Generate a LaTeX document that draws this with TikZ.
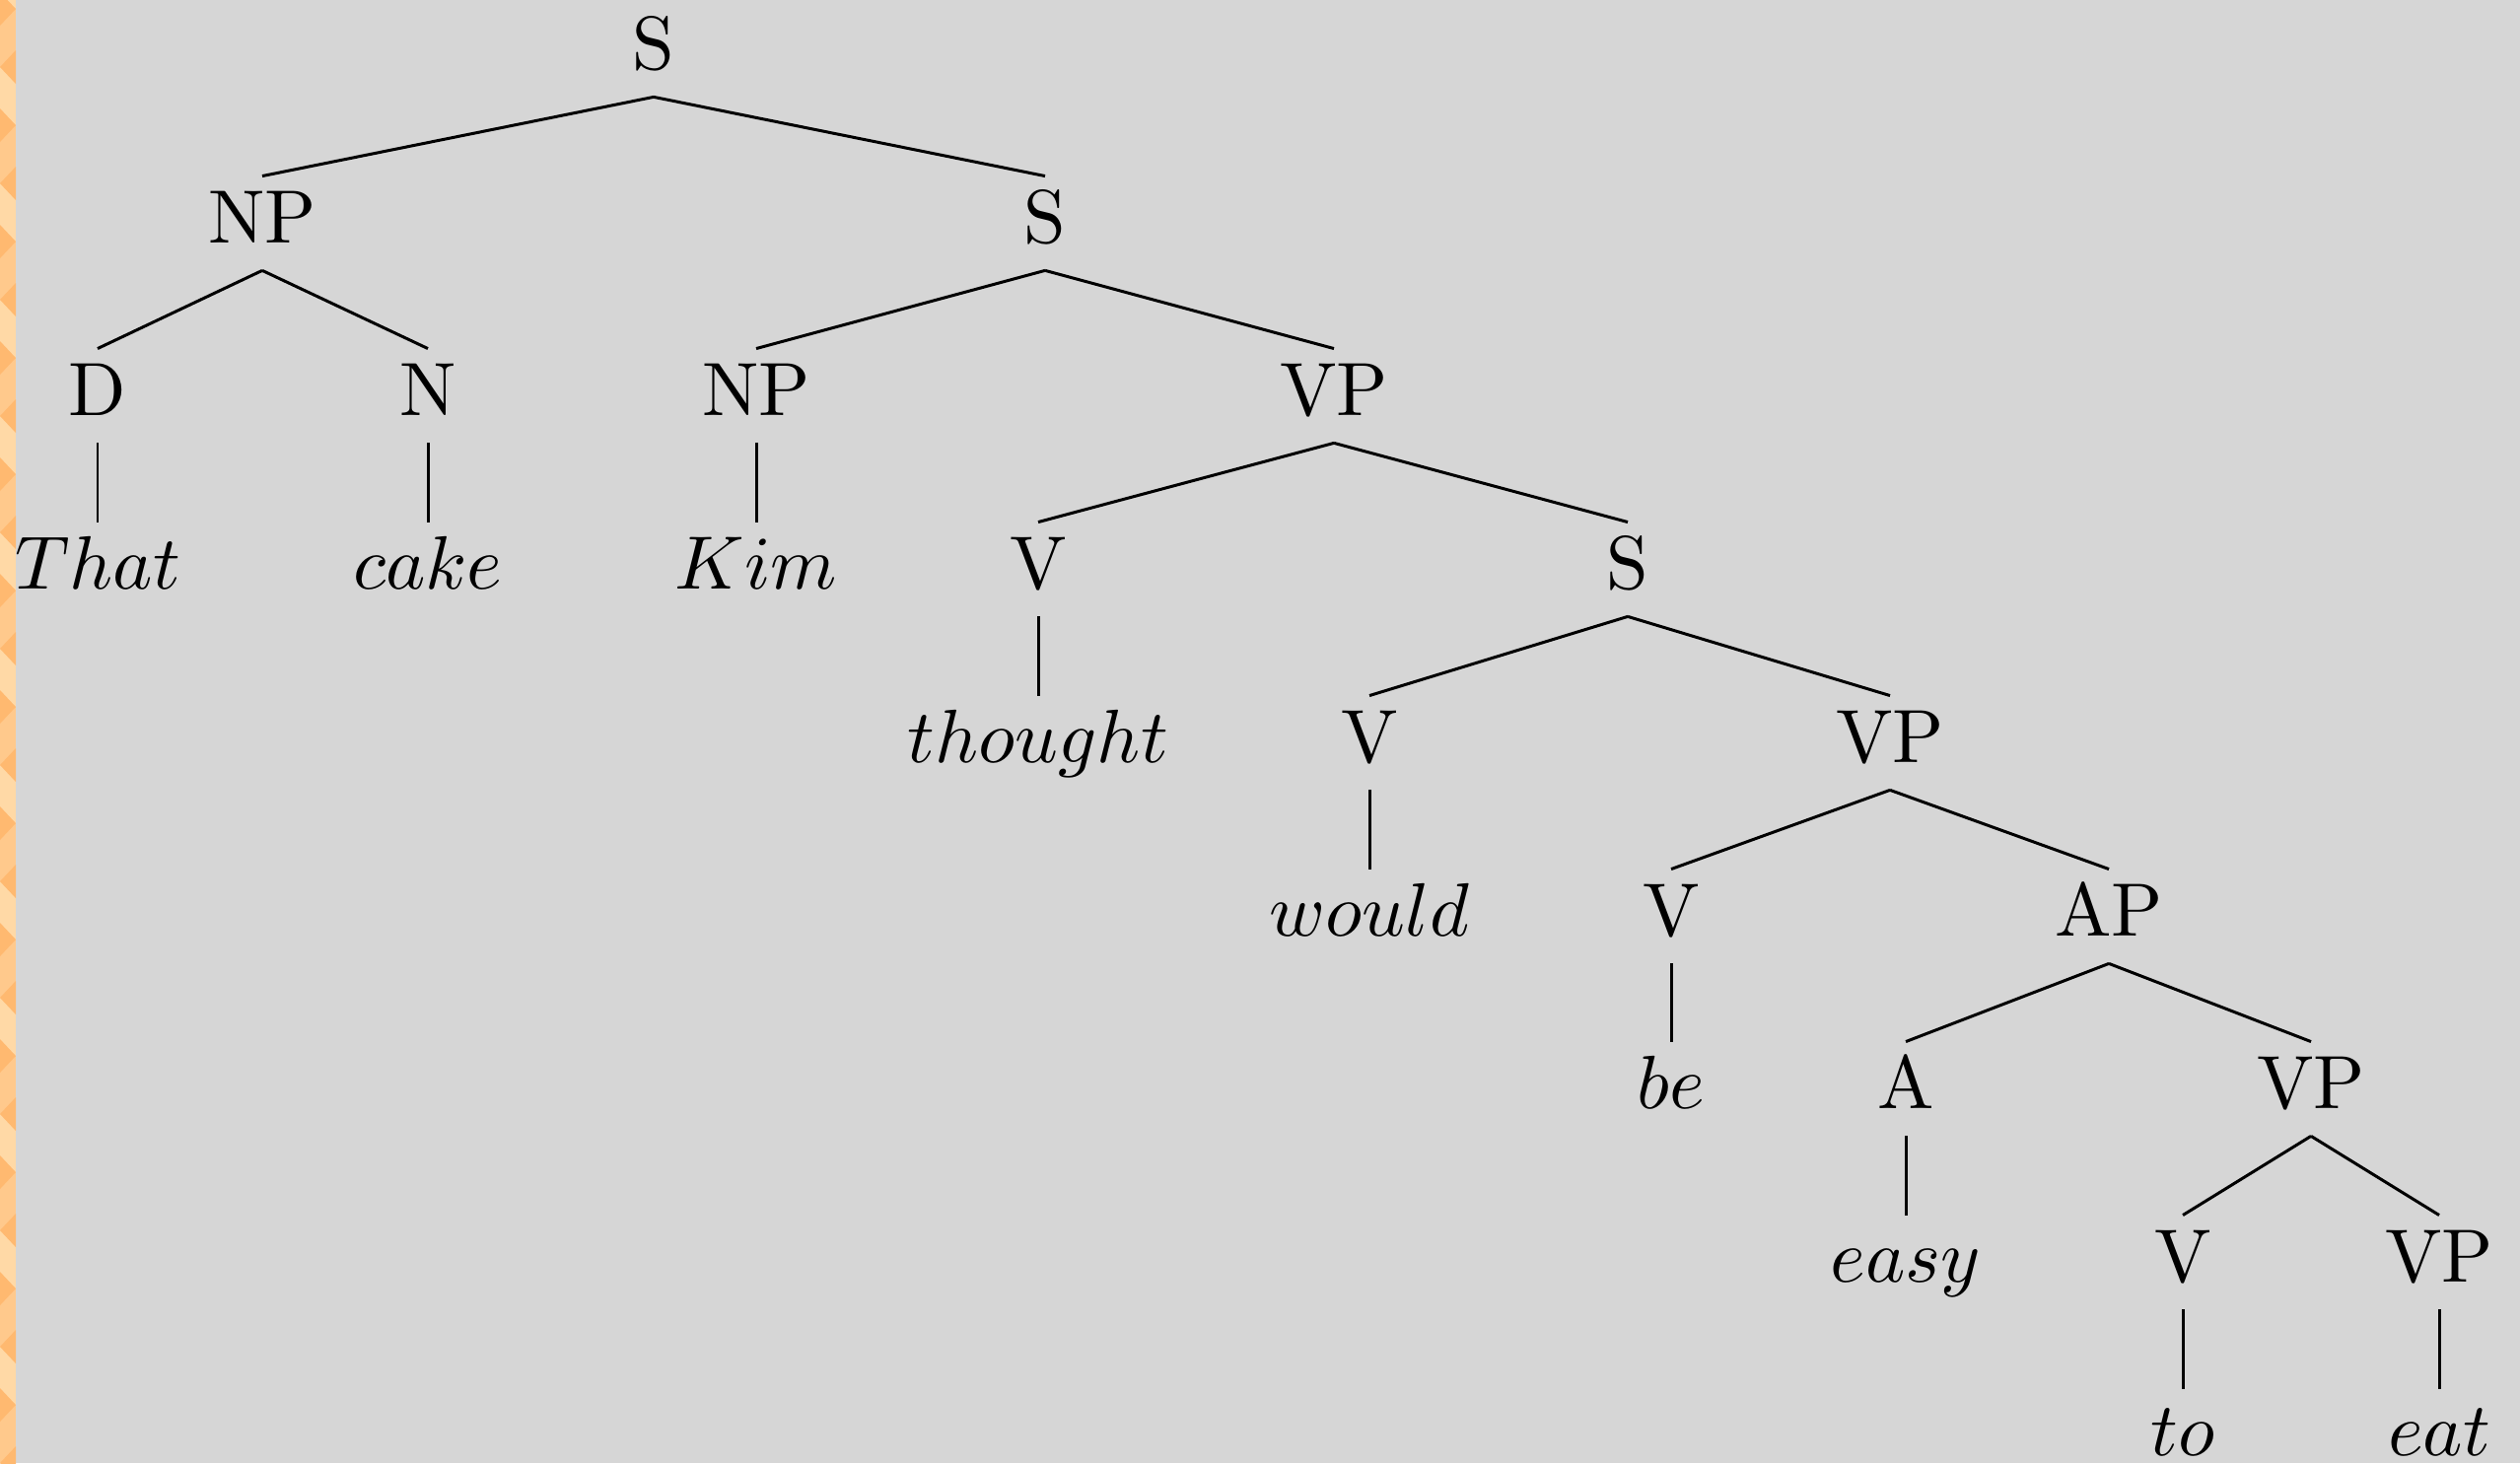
\documentclass[tikz,border=0pt]{standalone}
\usepackage{tikz}

\definecolor{slidegray}{RGB}{214,214,214}
\definecolor{barlight}{RGB}{255,217,166}
\definecolor{barmid}{RGB}{255,201,140}
\definecolor{bardark}{RGB}{255,185,112}

\begin{document}
\begin{tikzpicture}[x=0.0046948cm, y=-0.0046948cm,
    cat/.style={anchor=base, scale=1.025,
        text height=5.1pt, text depth=0pt, inner ysep=3.5pt, inner xsep=0pt},
    branch/.style={draw, line width=0.4pt}]
    \useasboundingbox (0,0) rectangle (2556,1484);

    % slide background and the zigzag bar on the left edge
    \fill[slidegray] (0,0) rectangle (2556,1484);
    \begin{scope}
        \clip (0,0) rectangle (16,1484);
        \fill[barlight] (0,0) rectangle (16,1484);
        \foreach \c in {9,127,...,1425} {
            \fill[barmid] (0,\c) rectangle (16,\c+59);
            \fill[bardark] (0,\c-17) -- (16,\c) -- (0,\c+17) -- cycle;
            \fill[bardark] (16,\c+42) -- (0,\c+59) -- (16,\c+76) -- cycle;
        }
    \end{scope}

    % categories, one row per level (baselines 176px apart)
    \node[cat] (s0) at (663,70) {S};

    \node[cat] (np1) at (266,246) {NP};
    \node[cat] (s1) at (1060,246) {S};

    \node[cat] (d) at (99,421) {D};
    \node[cat] (n) at (434,421) {N};
    \node[cat] (np2) at (767,421) {NP};
    \node[cat] (vp1) at (1353,421) {VP};

    \node[cat] (that) at (99,597) {$That$};
    \node[cat] (cake) at (434,597) {$cake$};
    \node[cat] (kim) at (767,597) {$Kim$};
    \node[cat] (v1) at (1053,597) {V};
    \node[cat] (s2) at (1651,597) {S};

    \node[cat] (thought) at (1053,773) {$thought$};
    \node[cat] (v2) at (1389,773) {V};
    \node[cat] (vp2) at (1917,773) {VP};

    \node[cat] (would) at (1389,949) {$would$};
    \node[cat] (v3) at (1695,949) {V};
    \node[cat] (ap) at (2139,949) {AP};

    \node[cat] (be) at (1695,1124) {$be$};
    \node[cat] (a) at (1933,1124) {A};
    \node[cat] (vp3) at (2344,1124) {VP};

    \node[cat] (easy) at (1933,1300) {$easy$};
    \node[cat] (v4) at (2214,1300) {V};
    \node[cat] (vp4) at (2474,1300) {VP};

    \node[cat] (to) at (2214,1476) {$to$};
    \node[cat] (eat) at (2474,1476) {$eat$};

    % branches: parent bottom to child top
    \foreach \p/\c in {s0/np1, s0/s1, np1/d, np1/n, s1/np2, s1/vp1,
        d/that, n/cake, np2/kim, vp1/v1, vp1/s2, v1/thought, s2/v2, s2/vp2,
        v2/would, vp2/v3, vp2/ap, v3/be, ap/a, ap/vp3, a/easy, vp3/v4, vp3/vp4,
        v4/to, vp4/eat}
        \draw[branch] (\p.south) -- (\c.north);
\end{tikzpicture}
\end{document}
